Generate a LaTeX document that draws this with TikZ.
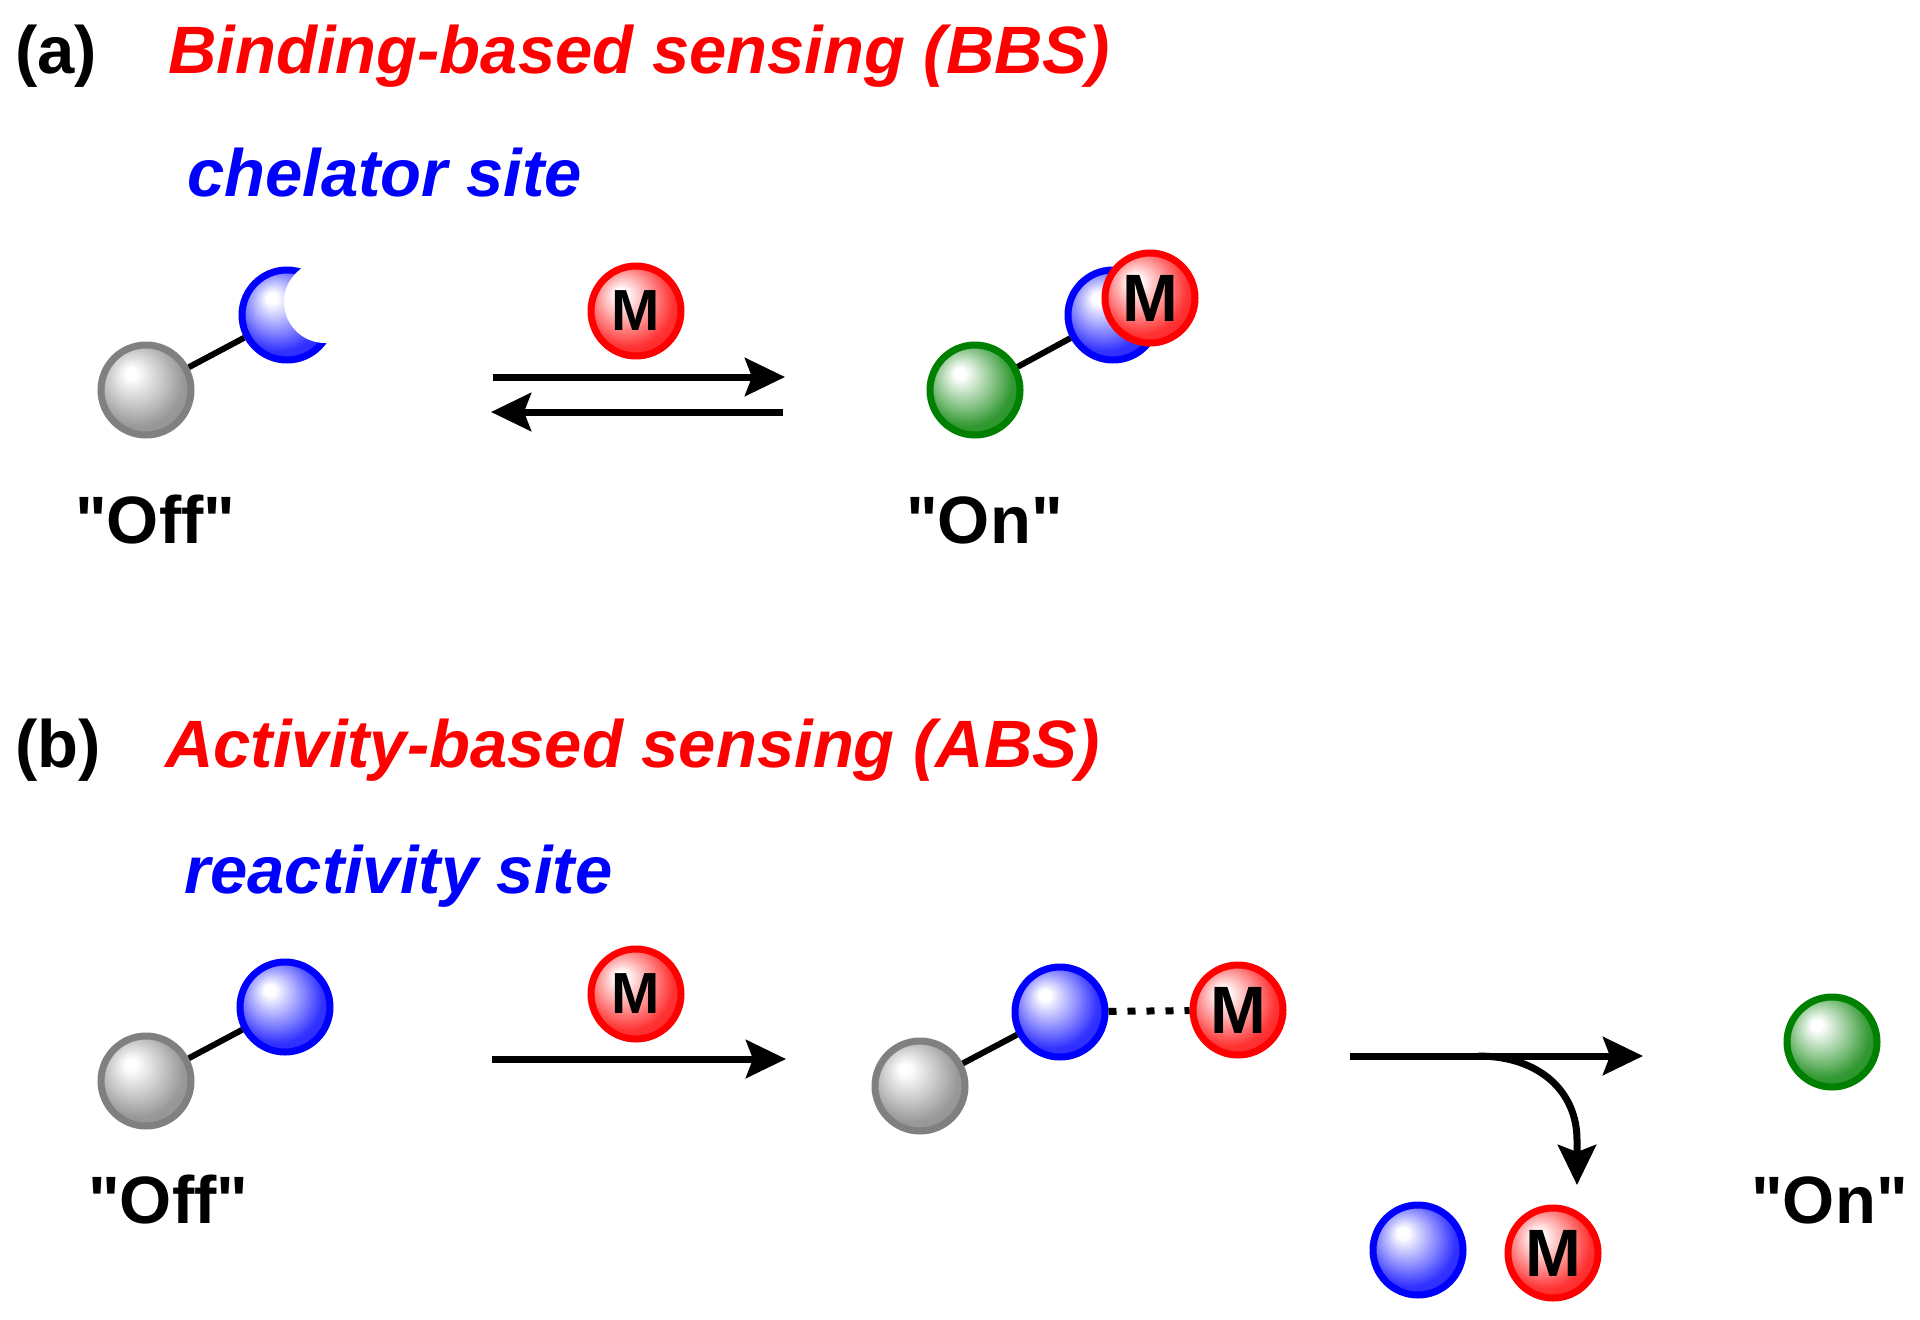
\documentclass[tikz,border=0pt]{standalone}
\usepackage{fontspec}
\newfontfamily\lsans{Liberation Sans}
\usetikzlibrary{arrows.meta}

\colorlet{ballcol}{blue}
\pgfdeclareradialshading[ballcol]{glossy}{\pgfpoint{-9bp}{10bp}}{%
  color(0bp)=(white); color(3bp)=(white);
  color(17bp)=(ballcol!50!white); color(25bp)=(ballcol!80!white);
  color(50bp)=(ballcol)}

\newcommand{\bigtxt}{\lsans\fontsize{67}{80}\selectfont\bfseries}
\newcommand{\smalltxt}{\lsans\fontsize{58}{70}\selectfont\bfseries}

\begin{document}
\begin{tikzpicture}[x=1pt,y=-1pt,
  bead/.style={circle,minimum size=90,inner sep=0,draw=#1,line width=7,
    /utils/exec={\colorlet{ballcol}{#1}},shading=glossy,shade},
  metal/.style={bead=red,font=\bigtxt},
  bond/.style={line width=6},
  rxn/.style={line width=7,-{Stealth[length=40pt,width=38pt,inset=7pt]}},
  panel/.style={font=\bigtxt,anchor=base west,inner sep=0},
  headline/.style={panel,font=\bigtxt\itshape,text=red},
  sitelbl/.style={panel,font=\bigtxt\itshape,text=blue}]
\useasboundingbox (0,0) rectangle (1920,1320);

% (a) binding-based sensing
\node[panel] (labA) at (15,73) {(a)};
\node[headline] (headA) at (168,73) {Binding-based sensing (BBS)};
\node[sitelbl] (siteA) at (187,196) {chelator site};

\node[bead=gray] (offA) at (146,390) {};
\node[bead=blue] (chelA) at (287,315) {};
\coordinate (biteA) at (325,302);
\fill[white] (biteA) circle (41);
\draw[bond] (offA) -- (chelA);

\coordinate (fwdS) at (493,377);
\coordinate (fwdE) at (785,377);
\coordinate (bwdS) at (783,412);
\coordinate (bwdE) at (491,412);
\draw[rxn] (fwdS) -- (fwdE);
\draw[rxn] (bwdS) -- (bwdE);
\node[metal,font=\smalltxt] (mA) at (636,311) {M};

\node[bead=green!50!black] (onA) at (975,390) {};
\node[bead=blue] (bindA) at (1113,315) {};
\node[metal] (mBound) at (1150,298) {M};
\draw[bond] (onA) -- (bindA);

\node[panel] (offTxtA) at (75,543) {"Off"};
\node[panel] (onTxtA) at (906,543) {"On"};

% (b) activity-based sensing
\node[panel] (labB) at (15,767) {(b)};
\node[headline] (headB) at (165,767) {Activity-based sensing (ABS)};
\node[sitelbl] (siteB) at (184,893) {reactivity site};

\node[bead=gray] (offB) at (146,1081) {};
\node[bead=blue] (reacB) at (285,1007) {};
\draw[bond] (offB) -- (reacB);

\coordinate (stepS) at (492,1059);
\coordinate (stepE) at (786,1059);
\draw[rxn] (stepS) -- (stepE);
\node[metal,font=\smalltxt] (mB) at (636,994) {M};

\node[bead=gray] (midB) at (920,1086) {};
\node[bead=blue] (reacMid) at (1060,1012) {};
\node[metal] (mMid) at (1238,1010) {M};
\draw[bond] (midB) -- (reacMid);
\draw[line width=7,dash pattern=on 8pt off 11pt] (reacMid) -- (mMid);

\coordinate (splitS) at (1350,1056);
\coordinate (splitE) at (1643,1056);
\coordinate (branch) at (1478,1056);
\coordinate (bend) at (1577,1140);
\coordinate (dropE) at (1577,1185);
\draw[rxn] (splitS) -- (splitE);
\draw[rxn] (branch) .. controls (1540,1056) and (1577,1092) .. (bend) -- (dropE);

\node[bead=blue] (leftB) at (1418,1250) {};
\node[metal] (mFree) at (1553,1253) {M};
\node[bead=green!50!black] (onB) at (1832,1042) {};

\node[panel] (offTxtB) at (88,1223) {"Off"};
\node[panel] (onTxtB) at (1751,1223) {"On"};
\end{tikzpicture}
\end{document}
